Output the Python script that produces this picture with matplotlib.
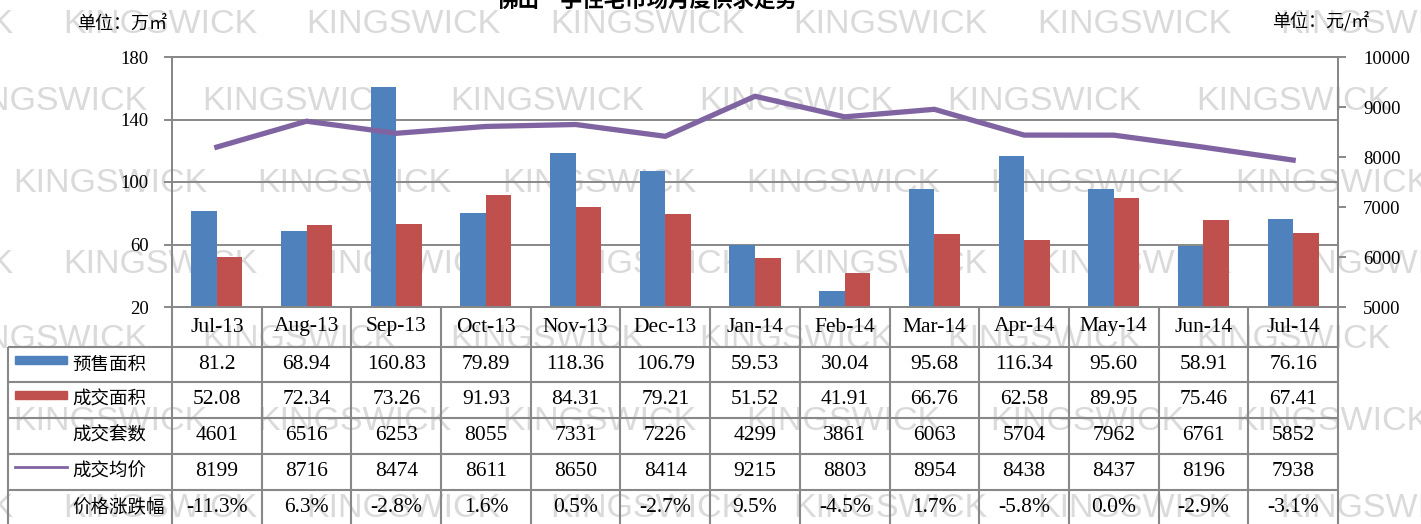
import matplotlib
matplotlib.use('Agg')
import matplotlib.pyplot as plt
import numpy as np
from matplotlib.patches import Rectangle

# 数据
months = ['Jul-13', 'Aug-13', 'Sep-13', 'Oct-13', 'Nov-13', 'Dec-13', 'Jan-14',
          'Feb-14', 'Mar-14', 'Apr-14', 'May-14', 'Jun-14', 'Jul-14']
presale = ['81.2', '68.94', '160.83', '79.89', '118.36', '106.79', '59.53',
           '30.04', '95.68', '116.34', '95.60', '58.91', '76.16']
deal_area = ['52.08', '72.34', '73.26', '91.93', '84.31', '79.21', '51.52',
             '41.91', '66.76', '62.58', '89.95', '75.46', '67.41']
deal_units = [4601, 6516, 6253, 8055, 7331, 7226, 4299, 3861, 6063, 5704, 7962, 6761, 5852]
avg_price = [8199, 8716, 8474, 8611, 8650, 8414, 9215, 8803, 8954, 8438, 8437, 8196, 7938]
price_chg = ['-11.3%', '6.3%', '-2.8%', '1.6%', '0.5%', '-2.7%', '9.5%',
             '-4.5%', '1.7%', '-5.8%', '0.0%', '-2.9%', '-3.1%']
row_names = ['预售面积', '成交面积', '成交套数', '成交均价', '价格涨跌幅']

title = '佛山一手住宅市场月度供求走势'
unit_left = '单位：万㎡'
unit_right = '单位：元/㎡'

BLUE = '#4F81BD'
RED = '#C0504D'
PURPLE = '#8064A2'
GRID = '#888888'
WM = '#dadada'
CJK = ['Noto Sans CJK SC', 'DejaVu Sans']
NUM = 'Liberation Serif'

W, H = 1421, 524
fig = plt.figure(figsize=(W / 100, H / 100), dpi=100)
fig.patch.set_facecolor('white')

# 水印
wm_rows = [(33, 63, 243.5), (110, 202, 248.5), (192, 13, 244.4),
           (273, 63, 243.5), (348, 202, 248.5), (430, 13, 244.4), (517, 63, 243.5)]
for yb, x0, step in wm_rows:
    xs = x0 - step
    while xs < W:
        fig.text(xs / W, 1 - yb / H, 'KINGSWICK', color=WM, fontsize=24.5,
                 family='Liberation Sans', ha='left', va='baseline', zorder=-5)
        xs += step

# 主图
L, R, T, B = 172, 1338, 57, 307
ax = fig.add_axes([L / W, 1 - B / H, (R - L) / W, (B - T) / H])
ax.set_facecolor('none')
x = np.arange(len(months))
w = 0.285
ax.bar(x - w / 2, [float(v) for v in presale], w, color=BLUE, zorder=2)
ax.bar(x + w / 2, [float(v) for v in deal_area], w, color=RED, zorder=2)
ax.set_xlim(-0.5, len(months) - 0.5)
ax.set_ylim(20, 180)
ax.set_yticks([20, 60, 100, 140, 180])
ax.set_xticks([])
ax.yaxis.grid(True, color=GRID, lw=1.4)
ax.set_axisbelow(True)
for s in ax.spines.values():
    s.set_color(GRID)
    s.set_linewidth(1.4)
ax.tick_params(axis='y', length=6, width=1.4, color=GRID, pad=11, labelsize=13.5)
for lab in ax.get_yticklabels():
    lab.set_family(NUM)

ax2 = ax.twinx()
ax2.plot(x, avg_price, color=PURPLE, lw=3.8, solid_joinstyle='round', zorder=3)
ax2.set_ylim(5000, 10000)
ax2.set_yticks(range(5000, 10001, 1000))
for s in ax2.spines.values():
    s.set_color(GRID)
    s.set_linewidth(1.4)
ax2.tick_params(axis='y', length=6, width=1.4, color=GRID, pad=12, labelsize=13.5)
for lab in ax2.get_yticklabels():
    lab.set_family(NUM)

# 数据表
col_w = (R - L) / len(months)


def tx(p):
    return -0.5 + (p - L) / col_w


rows_y = [307, 347, 382, 418, 454, 490, 526]
axt = fig.add_axes([L / W, 0, (R - L) / W, (H - B) / H])
axt.set_xlim(-0.5, len(months) - 0.5)
axt.set_ylim(H, B)
axt.axis('off')
axt.patch.set_visible(False)

left_edge = tx(8)
for k in range(len(months) + 1):
    axt.vlines(k - 0.5, rows_y[0], rows_y[-1], color=GRID, lw=1.5, clip_on=False)
axt.vlines(left_edge, rows_y[1], rows_y[-1], color=GRID, lw=1.5, clip_on=False)
for yy in rows_y[1:-1]:
    axt.hlines(yy, left_edge, len(months) - 0.5, color=GRID, lw=1.5, clip_on=False)

centers = [(rows_y[i] + rows_y[i + 1]) / 2 for i in range(len(rows_y) - 1)]
table_rows = [months, presale, deal_area, [str(v) for v in deal_units],
              [str(v) for v in avg_price], price_chg]
for r, vals in enumerate(table_rows):
    for i, v in enumerate(vals):
        axt.text(i, centers[r], v, ha='center', va='center', fontsize=15.5,
                 family=NUM, clip_on=False)

for r, name in enumerate(row_names):
    axt.text(tx(72), centers[r + 1], name, ha='left', va='center', fontsize=13.3,
             family=CJK, clip_on=False)

sw_x0, sw_x1 = tx(15), tx(67)
axt.add_patch(Rectangle((sw_x0, centers[1] - 9), sw_x1 - sw_x0, 8, color=BLUE, clip_on=False))
axt.add_patch(Rectangle((sw_x0, centers[2] - 9), sw_x1 - sw_x0, 8, color=RED, clip_on=False))
axt.plot([sw_x0, sw_x1], [centers[4] - 5, centers[4] - 5], color=PURPLE, lw=2, clip_on=False)

# 标题与单位
fig.text(647 / W, 1 - 6.5 / H, title, ha='center', va='baseline', fontsize=15.5,
         weight='bold', family=CJK)
fig.text(77 / W, 1 - 28.5 / H, unit_left, ha='left', va='baseline', fontsize=13, family=CJK)
fig.text(1272 / W, 1 - 26 / H, unit_right, ha='left', va='baseline', fontsize=13, family=CJK)

fig.savefig('out.png', dpi=100, facecolor='white')
